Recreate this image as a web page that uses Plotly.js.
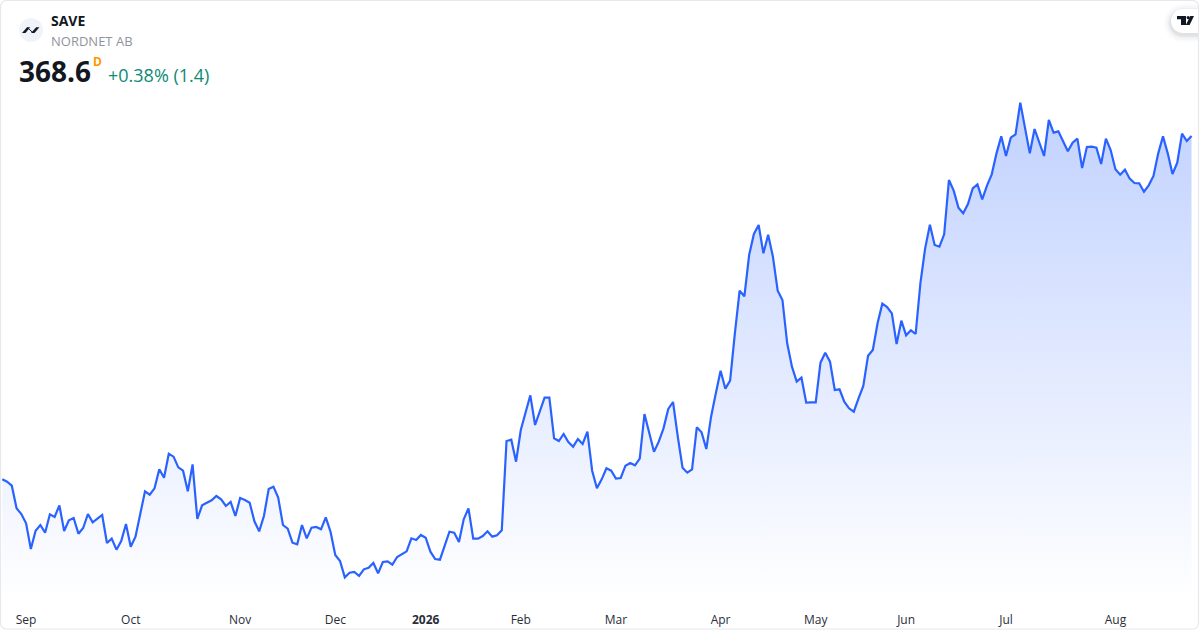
<!DOCTYPE html>
<html><head><meta charset="utf-8">
<script src="https://cdn.plot.ly/plotly-3.0.1.min.js"></script>
<style>html,body{margin:0;padding:0;background:#fff}#c{width:1200px;height:630px}</style>
</head><body><div id="c"></div>
<script>
const symbol = "SAVE";
const company = "NORDNET AB";
const lastPrice = "368.6";
const intervalTag = "D";
const changeText = "+0.38% (1.4)";
const tickIndex = [5,27,50,70,89,109,129,151,171,190,211,234];
const tickLabels = ["Sep","Oct","Nov","Dec","<b>2026</b>","Feb","Mar","Apr","May","Jun","Jul","Aug"];
const closes = [
265.6,264.9,263.7,256.9,255.2,252.4,244.7,250.2,251.9,249.6,255.1,254.3,257.8,250.1,253.3,254.0,249.3,251.0,255.2,252.7,
253.8,254.9,246.5,247.8,244.5,247.1,252.2,245.4,248.4,255.4,262.0,261.0,262.9,268.6,266.1,273.3,272.4,269.2,268.2,262.0,
270.1,253.7,257.8,258.6,259.3,260.6,259.6,257.6,258.8,254.6,260.0,259.4,258.6,253.0,250.0,254.6,262.7,263.4,260.1,251.9,
250.8,246.6,246.1,251.9,247.9,251.1,251.3,250.6,254.2,249.9,242.9,241.1,236.2,237.6,237.8,236.6,238.6,239.1,240.5,237.4,
240.8,241.0,240.0,242.3,243.1,244.0,247.9,247.4,248.9,248.1,243.9,241.7,241.5,245.7,249.9,249.6,246.8,253.6,256.9,247.8,
247.8,248.6,250.0,248.4,248.8,250.3,277.1,277.5,270.9,280.4,285.4,290.8,281.9,285.9,290.1,290.1,277.9,277.1,279.2,276.8,
275.4,277.7,276.2,279.9,268.2,262.9,265.6,268.9,268.2,265.8,266.0,269.7,270.5,269.8,271.8,285.2,279.6,273.9,276.9,280.9,
286.7,288.8,278.4,269.1,267.6,268.6,281.2,279.7,274.7,284.4,291.4,298.2,292.8,295.2,309.4,322.2,320.5,332.9,339.2,341.9,
333.4,339.0,332.4,322.2,319.4,306.4,299.4,294.9,296.1,288.6,288.7,288.7,300.6,303.6,300.9,292.4,292.6,288.9,286.9,285.9,
289.9,293.6,302.7,304.4,312.4,318.3,317.3,315.4,306.2,313.2,308.8,310.3,309.2,324.4,334.9,342.0,335.9,335.4,339.1,355.4,
352.2,347.1,345.4,348.2,352.9,354.1,349.6,353.7,357.1,363.4,368.5,362.6,368.1,369.1,378.6,370.4,363.4,370.7,366.6,362.6,
373.4,369.6,370.0,366.9,364.0,366.6,367.8,359.0,365.3,365.4,365.1,360.2,367.8,364.4,358.6,357.0,358.5,355.8,354.5,354.4,
351.9,353.8,356.6,363.4,368.5,363.4,357.2,360.6,369.3,367.1,368.6];
const bars = closes.map((_, i) => i);

const W = 1200, H = 630, plotH = 602;
const FONT = '"Open Sans", "Noto Sans", sans-serif';
const px = x => x / W;
const py = y => 1 - y / plotH;
const P = pts => pts.map((p, i) => (i ? "L" : "M") + px(p[0]) + "," + py(p[1])).join(" ");
const base = {xref:"paper", yref:"paper"};
function note(text, x, y, size, color, extra) {
  return Object.assign({}, base, {text, x:px(x), y:py(y), xanchor:"left", yanchor:"middle", showarrow:false,
    font:{family:FONT, size, color}, borderpad:0, borderwidth:0}, extra || {});
}
function roundedPill(x0, y0, x1, y1, r) {
  const n = 10, pts = [];
  for (let k = 0; k <= n; k++) { const a = Math.PI/2 + Math.PI/2*k/n; pts.push([x0+r+r*Math.cos(a), y0+r-r*Math.sin(a)]); }
  for (let k = 0; k <= n; k++) { const a = Math.PI + Math.PI/2*k/n; pts.push([x0+r+r*Math.cos(a), y1-r-r*Math.sin(a)]); }
  pts.push([x1,y1]); pts.push([x1,y0]);
  return P(pts) + " Z";
}
function frame(x0, y0, x1, y1, r) {
  const n = 6, pts = [];
  const corners = [[x1-r,y0+r,0],[x1-r,y1-r,-90],[x0+r,y1-r,-180],[x0+r,y0+r,-270]];
  corners.forEach(c => { for (let k=0;k<=n;k++){ const a=(c[2]+90-90*k/n)*Math.PI/180; pts.push([c[0]+r*Math.cos(a), c[1]-r*Math.sin(a)]); } });
  return P(pts) + " Z";
}
const solid = (path, fill) => Object.assign({}, base, {type:"path", path, fillcolor:fill, line:{width:0}, layer:"above"});
const shapes = [
  Object.assign({}, base, {type:"path", path:frame(0.5,0.5,1198.5,629,6), line:{color:"#e6e8ee",width:1.2}, fillcolor:"rgba(0,0,0,0)", layer:"above"}),
  Object.assign({}, base, {type:"circle", x0:px(19), x1:px(43), y0:py(18), y1:py(42), fillcolor:"#f0f3fa", line:{width:0}, layer:"above"}),
  Object.assign({}, base, {type:"path", path:P([[27.5,27.6],[33,32.8]]), line:{color:"#131722",width:1}, fillcolor:"rgba(0,0,0,0)", layer:"above"}),
  solid(P([[22,33],[25.5,33],[30.2,27.3],[27,27.3]])+" Z", "#131722"),
  solid(P([[31,33],[34.5,33],[39.4,27.3],[36.2,27.3]])+" Z", "#131722"),
];
[[7,0.015],[5,0.025],[3,0.035],[1.5,0.05]].forEach(s => {
  shapes.push(solid(roundedPill(1171-s[0],9-s[0]+2,1198,33+s[0]+2,12+s[0]), "rgba(19,23,34,"+s[1]+")"));
});
shapes.push(solid(roundedPill(1171,9,1198,33,12), "#ffffff"));
shapes.push(solid(P([[1177,16],[1186,16],[1186,25],[1181,25],[1181,19.2],[1177,19.2]])+" Z", "#131722"));
shapes.push(Object.assign({}, base, {type:"circle", x0:px(1186.6), x1:px(1189.8), y0:py(16), y1:py(19.2), fillcolor:"#131722", line:{width:0}, layer:"above"}));
shapes.push(solid(P([[1190.3,16],[1194,16],[1189.6,25],[1185.8,25]])+" Z", "#131722"));

const annotations = [
  note("<b>"+symbol+"</b>", 51, 21, 14, "#131722"),
  note(company, 51, 41, 13, "#8f939d"),
  note("<b>"+lastPrice+"</b>", 19, 71, 28, "#131722"),
  note("<b>"+intervalTag+"</b>", 93, 61, 12, "#ff9800"),
  note(changeText, 108, 75, 18, "#0d8a74"),
];
const trace = {
  x: bars, y: closes, type:"scatter", mode:"lines",
  line:{color:"#2962ff", width:2.2, shape:"linear"},
  fill:"tozeroy",
  fillgradient:{type:"vertical", start:228.8, stop:379.4,
    colorscale:[[0,"rgba(41,98,255,0)"],[1,"rgba(41,98,255,0.29)"]]},
  hoverinfo:"skip"
};
const layout = {
  width:W, height:H, margin:{l:0,r:0,t:0,b:H-plotH,pad:0},
  paper_bgcolor:"#ffffff", plot_bgcolor:"#ffffff", showlegend:false,
  xaxis:{range:[-0.483,251.78], tickmode:"array", tickvals:tickIndex, ticktext:tickLabels,
    showgrid:false, zeroline:false, showline:false, ticks:"outside", ticklen:7, tickcolor:"rgba(0,0,0,0)",
    tickfont:{family:FONT, size:12, color:"#2a2e39"}, tickangle:0},
  yaxis:{range:[228.8,409.4], visible:false, showgrid:false, zeroline:false},
  shapes, annotations
};
Plotly.newPlot("c",[trace],layout,{displayModeBar:false,staticPlot:true});
</script></body></html>
